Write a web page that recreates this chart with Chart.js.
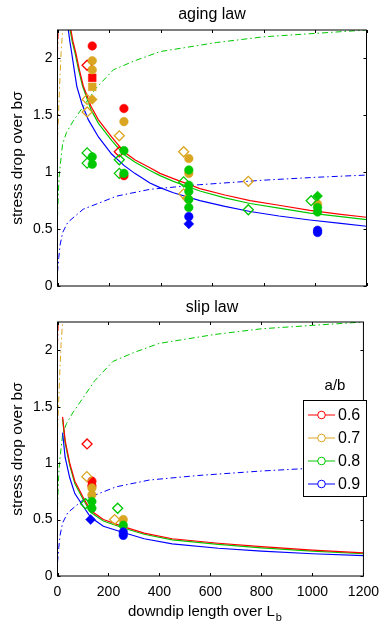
<!DOCTYPE html>
<html>
<head>
<meta charset="utf-8">
<script src="https://cdn.jsdelivr.net/npm/chart.js@4.4.1/dist/chart.umd.min.js"></script>
<style>
  body { margin: 0; background: #fff; }
  canvas { position: absolute; left: 0; }
  #agingChart { top: 0; }
  #slipChart { top: 300px; }
</style>
</head>
<body>
<canvas id="agingChart" width="387" height="300"></canvas>
<canvas id="slipChart" width="387" height="324"></canvas>
<script>
const abLabels = ['0.6', '0.7', '0.8', '0.9'];
const abColors = ['#ff0000', '#daa520', '#00c800', '#0000ff'];
const xTicks = [0, 200, 400, 600, 800, 1000, 1200];
const yTicks = [0, 0.5, 1, 1.5, 2];

// aging law, simulation results (o filled circle, s filled square, D filled diamond, d open diamond)
const agingX06 = [135, 115, 135, 258, 240, 258];
const agingY06 = [2.11, 1.94, 1.83, 1.56, 1.18, 0.97];
const agingM06 = ['o', 'd', 's', 'o', 'd', 'o'];
const agingX07 = [135, 135, 135, 135, 115, 115, 258, 240, 490, 510, 510, 490, 505, 741, 1010];
const agingY07 = [1.98, 1.90, 1.75, 1.64, 1.64, 1.53, 1.445, 1.32, 1.18, 1.12, 0.99, 0.81, 0.77, 0.92, 0.72];
const agingM07 = ['o', 'o', 's', 'D', 'd', 'd', 'o', 'd', 'd', 'o', 'o', 'd', 'd', 'd', 'o'];
const agingX08 = [115, 115, 135, 135, 258, 240, 240, 258, 510, 490, 510, 510, 510, 510, 741, 1010, 985, 1010, 1010];
const agingY08 = [1.17, 1.08, 1.135, 1.07, 1.19, 1.11, 0.99, 0.99, 1.02, 0.915, 0.885, 0.83, 0.76, 0.69, 0.67, 0.79, 0.75, 0.69, 0.65];
const agingM08 = ['d', 'd', 'o', 'o', 'o', 'd', 'd', 'o', 'o', 'd', 'o', 'o', 'o', 'o', 'd', 'D', 'd', 'o', 'o'];
const agingX09 = [510, 510, 1010, 1010];
const agingY09 = [0.61, 0.546, 0.49, 0.47];
const agingM09 = ['o', 'D', 'o', 'o'];

// slip law, simulation results
const slipX06 = [116, 135, 135];
const slipY06 = [1.17, 0.84, 0.80];
const slipM06 = ['d', 'o', 'o'];
const slipX07 = [115, 135, 135, 224, 258];
const slipY07 = [0.88, 0.78, 0.72, 0.50, 0.50];
const slipM07 = ['d', 'o', 'o', 'd', 'o'];
const slipX08 = [110, 135, 135, 236, 258];
const slipY08 = [0.64, 0.66, 0.60, 0.60, 0.45];
const slipM08 = ['d', 'o', 'o', 'd', 'o'];
const slipX09 = [130, 258, 258];
const slipY09 = [0.50, 0.39, 0.36];
const slipM09 = ['D', 'o', 'o'];

// aging law, estimate curves (solid)
const agingLineX06 = [52, 60, 71, 85, 100, 130, 159, 210, 258, 300, 359, 398, 450, 553, 650, 748, 860, 980, 1100, 1200];
const agingLineY06 = [2.25, 2.15, 2.05, 1.9, 1.76, 1.58, 1.46, 1.31, 1.18, 1.11, 1.04, 0.99, 0.944, 0.856, 0.8, 0.75, 0.71, 0.664, 0.63, 0.604];
const agingLineX08 = [49, 57, 68, 82, 97, 130, 159, 210, 258, 300, 359, 398, 450, 553, 650, 748, 860, 980, 1100, 1200];
const agingLineY08 = [2.25, 2.15, 2.05, 1.9, 1.76, 1.55, 1.43, 1.28, 1.155, 1.09, 1.015, 0.97, 0.92, 0.835, 0.775, 0.725, 0.685, 0.64, 0.61, 0.584];
const agingLineX09 = [42, 48, 55, 65, 75, 95, 120, 159, 210, 258, 300, 359, 398, 450, 553, 650, 748, 860, 980, 1100, 1200];
const agingLineY09 = [2.25, 2.15, 2.05, 1.9, 1.755, 1.6, 1.46, 1.31, 1.16, 1.06, 0.99, 0.905, 0.865, 0.82, 0.75, 0.7, 0.655, 0.615, 0.58, 0.55, 0.525];

// slip law, estimate curves (solid)
const slipLineX = [20, 30, 48, 68, 100, 130, 180, 258, 340, 450, 631, 800, 1000, 1200];
const slipLineY06 = [1.41, 1.2, 1.0, 0.84, 0.70, 0.58, 0.5, 0.437, 0.38, 0.33, 0.29, 0.26, 0.23, 0.205];
const slipLineY08 = [1.39, 1.18, 0.98, 0.82, 0.68, 0.565, 0.487, 0.425, 0.37, 0.32, 0.28, 0.25, 0.22, 0.197];
const slipLineY09 = [1.27, 1.05, 0.87, 0.73, 0.62, 0.52, 0.44, 0.385, 0.33, 0.285, 0.246, 0.22, 0.197, 0.18];

// dash-dot curves, same in both panels
const refX06 = [0, 3];
const refY06 = [2.05, 2.25];
const refX07 = [0, 3, 8, 14, 20];
const refY07 = [1.3, 1.45, 1.75, 2.05, 2.25];
const refX08 = [0, 3, 6, 10, 20, 35, 61, 107, 146, 217, 300, 398, 618, 800, 1000, 1200];
const refY08 = [0.6, 0.8, 0.95, 1.05, 1.25, 1.35, 1.45, 1.6, 1.73, 1.9, 1.98, 2.06, 2.14, 2.19, 2.22, 2.25];
const refX09 = [0, 5, 10, 20, 40, 100, 230, 360, 550, 800, 1000, 1200];
const refY09 = [0.12, 0.25, 0.36, 0.47, 0.56, 0.675, 0.79, 0.85, 0.89, 0.93, 0.955, 0.975];

const fontFamily = '"Liberation Sans", Arial, sans-serif';

function pts(xs, ys) {
  return xs.map((x, i) => ({ x: x, y: ys[i] }));
}

function lineSet(xs, ys, color, dashed) {
  return {
    data: pts(xs, ys),
    showLine: true,
    borderColor: color,
    borderWidth: dashed ? 1 : 1.2,
    borderDash: dashed ? [6, 3, 1.5, 3] : [],
    pointRadius: 0,
    fill: false,
    order: 10
  };
}

function markerSet(xs, ys, ms, color, order) {
  return {
    data: pts(xs, ys),
    showLine: false,
    pointStyle: ms.map(m => m === 'o' ? 'circle' : m === 's' ? 'rect' : 'rectRot'),
    pointRadius: ms.map(m => m === 'o' ? 4.3 : m === 's' ? 5.5 : 5),
    pointBackgroundColor: ms.map(m => m === 'd' ? 'rgba(0,0,0,0)' : color),
    pointBorderColor: color,
    pointBorderWidth: ms.map(m => m === 'd' ? 1.3 : 0.5),
    order: order
  };
}

function refSets() {
  return [
    lineSet(refX06, refY06, abColors[0], true),
    lineSet(refX07, refY07, abColors[1], true),
    lineSet(refX08, refY08, abColors[2], true),
    lineSet(refX09, refY09, abColors[3], true)
  ];
}

// box and inward ticks, titles, legend
const frame = {
  id: 'frame',
  afterDatasetsDraw(chart, args, opts) {
    const { ctx, chartArea: a, scales: { x, y } } = chart;
    ctx.save();
    ctx.strokeStyle = '#000';
    ctx.lineWidth = 1;
    ctx.strokeRect(a.left, a.top, a.right - a.left, a.bottom - a.top);
    ctx.beginPath();
    xTicks.forEach(v => {
      const px = Math.round(x.getPixelForValue(v)) + 0.5;
      ctx.moveTo(px, a.bottom); ctx.lineTo(px, a.bottom - 3);
      ctx.moveTo(px, a.top); ctx.lineTo(px, a.top + 3);
    });
    yTicks.forEach(v => {
      const py = Math.round(y.getPixelForValue(v)) + 0.5;
      ctx.moveTo(a.left, py); ctx.lineTo(a.left + 3, py);
      ctx.moveTo(a.right, py); ctx.lineTo(a.right - 3, py);
    });
    ctx.stroke();

    ctx.fillStyle = '#000';
    ctx.font = '16px ' + fontFamily;
    ctx.textAlign = 'center';
    ctx.textBaseline = 'alphabetic';
    ctx.fillText(opts.title, 212, opts.titleY);

    if (opts.bottom) {
      ctx.font = '15px ' + fontFamily;
      ctx.textAlign = 'left';
      const main = 'downdip length over L';
      ctx.fillText(main, 128, 316);
      const w = ctx.measureText(main).width;
      ctx.font = '11px ' + fontFamily;
      ctx.fillText('b', 128 + w + 1, 321);

      // legend
      ctx.font = '15px ' + fontFamily;
      ctx.textAlign = 'center';
      ctx.fillText('a/b', 335, 90);
      ctx.fillStyle = '#fff';
      ctx.fillRect(303.5, 100.5, 63, 96);
      ctx.strokeStyle = '#000';
      ctx.strokeRect(303.5, 100.5, 63, 96);
      ctx.font = '16px ' + fontFamily;
      ctx.textAlign = 'left';
      ctx.textBaseline = 'middle';
      abLabels.forEach((lab, i) => {
        const cy = 115 + i * 23;
        ctx.strokeStyle = abColors[i];
        ctx.beginPath();
        ctx.moveTo(308, cy); ctx.lineTo(335, cy);
        ctx.stroke();
        ctx.fillStyle = '#fff';
        ctx.beginPath();
        ctx.arc(321.5, cy, 3.8, 0, Math.PI * 2);
        ctx.fill();
        ctx.stroke();
        ctx.fillStyle = '#000';
        ctx.fillText(lab, 338, cy + 1);
      });
    }
    ctx.restore();
  }
};

function makeChart(id, datasets, isBottom) {
  return new Chart(document.getElementById(id), {
    type: 'scatter',
    data: { datasets: datasets },
    options: {
      responsive: false,
      animation: false,
      devicePixelRatio: 1,
      layout: { padding: { top: isBottom ? 22 : 30, right: 20.5, left: 0, bottom: 0 } },
      plugins: {
        legend: { display: false },
        tooltip: { enabled: false },
        frame: { title: isBottom ? 'slip law' : 'aging law', titleY: isBottom ? 12 : 19, bottom: isBottom }
      },
      scales: {
        x: {
          type: 'linear',
          min: 0,
          max: 1200,
          afterBuildTicks: s => { s.ticks = xTicks.map(v => ({ value: v })); },
          ticks: {
            display: isBottom,
            color: '#000',
            font: { family: fontFamily, size: 14 },
            padding: 8,
            maxRotation: 0,
            autoSkip: false,
            callback: v => String(v)
          },
          grid: { display: false, drawTicks: false },
          border: { display: false },
          afterFit: s => { s.height = isBottom ? 48 : 14; }
        },
        y: {
          min: 0,
          max: 2.25,
          afterBuildTicks: s => { s.ticks = yTicks.map(v => ({ value: v })); },
          ticks: {
            color: '#000',
            font: { family: fontFamily, size: 14 },
            padding: 5,
            callback: v => String(v)
          },
          grid: { display: false, drawTicks: false },
          border: { display: false },
          title: {
            display: true,
            text: 'stress drop over bσ',
            color: '#000',
            font: { family: fontFamily, size: 15.5 },
            padding: { top: 8, bottom: 0 }
          },
          afterFit: s => { s.width = 57.5; }
        }
      }
    },
    plugins: [frame]
  });
}

const agingSets = [
  markerSet(agingX09, agingY09, agingM09, abColors[3], 1),
  markerSet(agingX08, agingY08, agingM08, abColors[2], 2),
  markerSet(agingX07, agingY07, agingM07, abColors[1], 3),
  markerSet(agingX06, agingY06, agingM06, abColors[0], 4),
  lineSet(agingLineX06, agingLineY06, abColors[0], false),
  lineSet(agingLineX08, agingLineY08, abColors[2], false),
  lineSet(agingLineX09, agingLineY09, abColors[3], false)
].concat(refSets());

const slipSets = [
  markerSet(slipX09, slipY09, slipM09, abColors[3], 1),
  markerSet(slipX08, slipY08, slipM08, abColors[2], 2),
  markerSet(slipX07, slipY07, slipM07, abColors[1], 3),
  markerSet(slipX06, slipY06, slipM06, abColors[0], 4),
  lineSet(slipLineX, slipLineY06, abColors[0], false),
  lineSet(slipLineX, slipLineY08, abColors[2], false),
  lineSet(slipLineX, slipLineY09, abColors[3], false)
].concat(refSets());

makeChart('agingChart', agingSets, false);
makeChart('slipChart', slipSets, true);
</script>
</body>
</html>
